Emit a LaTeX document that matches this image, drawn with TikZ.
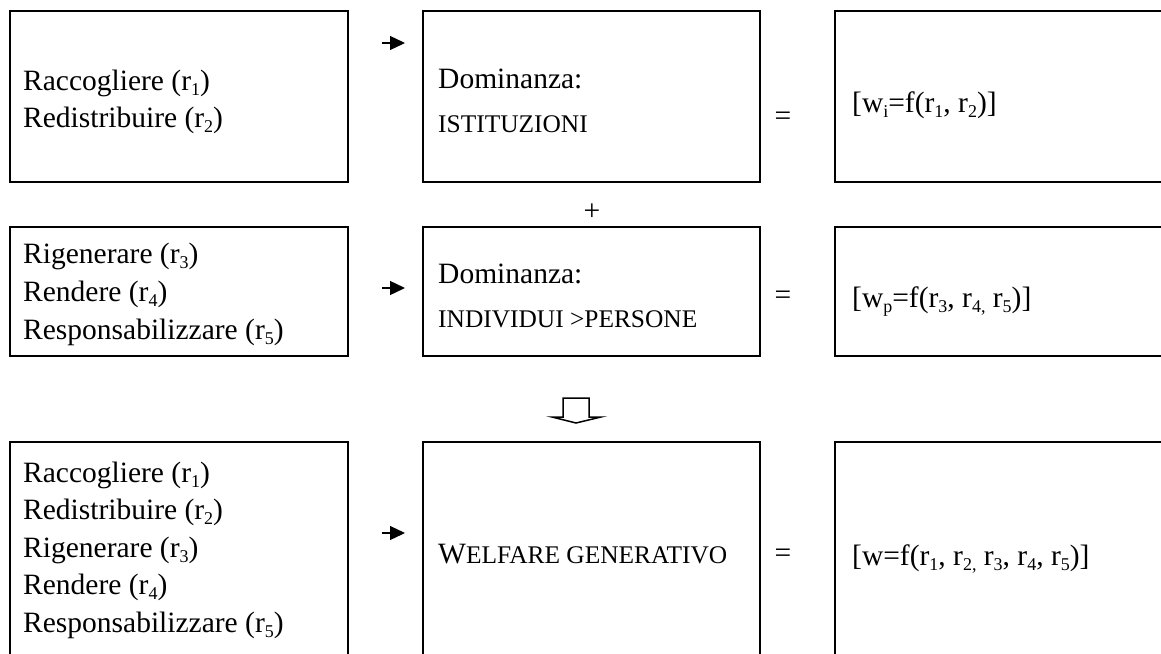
\documentclass[tikz,border=0pt]{standalone}
\usepackage{fontspec}
\setmainfont{Liberation Serif}
\usetikzlibrary{arrows.meta}
\newcommand\lo[1]{\raisebox{-0.18em}{\fontsize{18}{18}\selectfont #1}}
\newcommand\bigtxt{\fontsize{29.5}{36}\selectfont}
\newcommand\smtxt{\fontsize{25.4}{30}\selectfont}
\begin{document}
\begin{tikzpicture}[x=1pt,y=-1pt,
  box/.style={draw, line width=1.6pt, rectangle, inner sep=0pt, outer sep=0pt, anchor=north west},
  txt/.style={anchor=base west, inner sep=0pt, font=\bigtxt},
  sctxt/.style={anchor=base west, inner sep=0pt, font=\smtxt},
  sym/.style={inner sep=0pt, font=\bigtxt},
  arr/.style={line width=1.3pt, -{Triangle[length=15pt,width=14pt]}},
  blockarrow/.style={draw, line width=1.5pt, line join=miter}
]
\clip (0,0) rectangle (1161,653);
% row 1
\node[box, minimum width=338pt, minimum height=171pt] (L1) at (10,11) {};
\node[box, minimum width=337pt, minimum height=171pt] (M1) at (423,11) {};
\node[box, minimum width=400pt, minimum height=171pt] (R1) at (835,11) {};
% row 2
\node[box, minimum width=338pt, minimum height=129pt] (L2) at (10,227) {};
\node[box, minimum width=337pt, minimum height=129pt] (M2) at (423,227) {};
\node[box, minimum width=400pt, minimum height=129pt] (R2) at (835,227) {};
% row 3
\node[box, minimum width=338pt, minimum height=260pt] (L3) at (10,442) {};
\node[box, minimum width=337pt, minimum height=260pt] (M3) at (423,442) {};
\node[box, minimum width=400pt, minimum height=260pt] (R3) at (835,442) {};

% texts row 1
\node[txt] (t1a) at (23,90) {Raccogliere (r\lo{1})};
\node[txt] (t1b) at (23,127) {Redistribuire (r\lo{2})};
\node[txt] (d1a) at (438,88) {Dominanza:};
\node[sctxt] (d1b) at (438,132) {ISTITUZIONI};
\node[txt] (f1) at (852,112) {[w\lo{i}=f(r\lo{1}, r\lo{2})]};
% texts row 2
\node[txt] (t2a) at (23,263) {Rigenerare (r\lo{3})};
\node[txt] (t2b) at (23,301) {Rendere (r\lo{4})};
\node[txt] (t2c) at (23,339) {Responsabilizzare (r\lo{5})};
\node[txt] (d2a) at (438,283) {Dominanza:};
\node[sctxt] (d2b) at (438,327) {INDIVIDUI >PERSONE};
\node[txt] (f2) at (852,307) {[w\lo{p}=f(r\lo{3}, r\lo{4,} r\lo{5})]};
% texts row 3
\node[txt] (t3a) at (23,482) {Raccogliere (r\lo{1})};
\node[txt] (t3b) at (23,519) {Redistribuire (r\lo{2})};
\node[txt] (t3c) at (23,557) {Rigenerare (r\lo{3})};
\node[txt] (t3d) at (23,594) {Rendere (r\lo{4})};
\node[txt] (t3e) at (23,632) {Responsabilizzare (r\lo{5})};
\node[txt] (w3) at (438,563) {W{\smtxt ELFARE GENERATIVO}};
\node[txt] (f3) at (852,565) {[w=f(r\lo{1}, r\lo{2,} r\lo{3}, r\lo{4}, r\lo{5})]};

% symbols
\node[sym] (eq1) at (783,119) {=};
\node[sym] (eq2) at (783,298) {=};
\node[sym] (eq3) at (783,556) {=};
\node[sym] (plus) at (592,212) {+};

% small arrows
\coordinate (a1s) at (382,43); \coordinate (a1e) at (405,43);
\coordinate (a2s) at (382,288); \coordinate (a2e) at (405,288);
\coordinate (a3s) at (382,533); \coordinate (a3e) at (405,533);
\draw[arr] (a1s) -- (a1e);
\draw[arr] (a2s) -- (a2e);
\draw[arr] (a3s) -- (a3e);

% down block arrow
\draw[blockarrow] (563,398) -- (589,398) -- (589,417) -- (601,417) -- (576,423) -- (552,417) -- (563,417) -- cycle;
\end{tikzpicture}
\end{document}
